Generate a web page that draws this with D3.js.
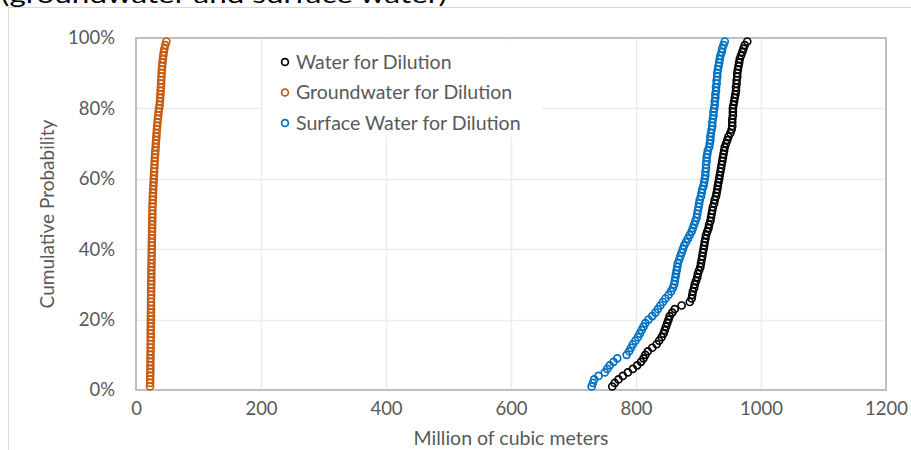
<!DOCTYPE html>
<html><head><meta charset="utf-8">
<script src="https://cdn.jsdelivr.net/npm/d3@7/dist/d3.min.js"></script>
<style>body{margin:0;background:#fff}svg{display:block}</style>
</head><body>
<svg id="c" width="911" height="450"></svg>
<script>
// Sorted sample values (million m3); cumulative probability = rank/100
const waterDilution = [762,766,772,779,787,795,802,808,812,815,819,826,833,837,841,844,846,848,850,852,854,858,862,873,886,889,890,891,893,894,896,898,899,901,903,904,905,906,907,908,909,910,911,912,914,916,917,919,920,921,922,923,925,926,928,929,930,931,932,933,934,935,936,937,938,939,940,941,942,944,946,948,951,953,954,954,954,955,955,955,956,957,958,959,960,960,961,961,962,962,963,964,965,966,968,970,972,974,978];
const groundwaterDilution = [22.5,22.6,22.7,22.8,22.9,23.0,23.0,23.1,23.2,23.2,23.3,23.4,23.4,23.5,23.5,23.6,23.6,23.7,23.7,23.8,23.9,23.9,24.0,24.0,24.1,24.1,24.2,24.2,24.3,24.4,24.4,24.5,24.6,24.6,24.7,24.8,24.9,25.0,25.1,25.2,25.3,25.4,25.5,25.6,25.7,25.8,25.9,26.0,26.1,26.2,26.3,26.4,26.6,26.8,27.0,27.2,27.5,27.8,28.1,28.4,28.7,29.0,29.3,29.6,29.9,30.2,30.6,31.0,31.4,31.8,32.2,32.6,33.0,33.4,33.9,34.4,34.9,35.5,36.2,37.0,37.8,38.3,38.7,39.1,39.5,39.8,40.1,40.4,40.7,41.0,41.3,41.8,42.3,43.0,43.7,44.5,45.5,46.8,48.5];
const surfaceDilution = [729,731,733,740,750,754,758,764,770,785,789,792,795,799,803,806,809,812,815,820,826,831,835,839,843,847,852,856,859,861,862,863,864,865,866,867,869,871,873,875,877,880,883,886,889,891,893,895,897,898,899,900,901,902,904,905,906,908,909,910,911,911,912,912,913,913,914,915,917,918,919,919,920,921,922,922,923,924,924,925,926,926,927,927,928,928,929,929,930,930,931,932,933,934,935,937,938,940,942];
const seriesNames = ["Water for Dilution","Groundwater for Dilution","Surface Water for Dilution"];
const seriesColors = ["#000000","#c55a11","#0070c0"];
const xTicks = [0,200,400,600,800,1000,1200];
const yTicks = [0,0.2,0.4,0.6,0.8,1.0];
const titleText = "(groundwater and surface water)";
const xTitle = "Million of cubic meters";
const yTitle = "Cumulative Probability";

const svg = d3.select("#c");
const font = "Lato, 'Open Sans', sans-serif";
const L=136,R=886,T=38,B=390;
const x = d3.scaleLinear().domain([0,1200]).range([L,R]);
const y = d3.scaleLinear().domain([0,1]).range([B,T]);

// partially cropped title (only its lower edge shows at the top of the page)
svg.append("text").attr("x",1).attr("y",3).attr("font-family",font).attr("font-size",24)
  .attr("fill","#000").attr("textLength",446).attr("lengthAdjust","spacingAndGlyphs").text(titleText);
// outer chart frame
svg.append("rect").attr("x",8.5).attr("y",7.5).attr("width",1000).attr("height",600)
  .attr("fill","#fff").attr("stroke","#d9d9d9");

// gridlines
svg.append("g").selectAll("line").data(yTicks.slice(1,-1)).join("line")
  .attr("x1",L).attr("x2",R).attr("y1",d=>Math.round(y(d))+0.5).attr("y2",d=>Math.round(y(d))+0.5)
  .attr("stroke","#ececec").attr("stroke-width",1.5);
svg.append("g").selectAll("line").data(xTicks.slice(1,-1)).join("line")
  .attr("y1",T).attr("y2",B).attr("x1",d=>Math.round(x(d))+0.5).attr("x2",d=>Math.round(x(d))+0.5)
  .attr("stroke","#ececec").attr("stroke-width",1.5);
// plot border
svg.append("rect").attr("x",L).attr("y",T).attr("width",R-L).attr("height",B-T)
  .attr("fill","none").attr("stroke","#bfbfbf").attr("stroke-width",2);

// axes labels via d3 axes
const xAxis = svg.append("g").attr("transform",`translate(0,${B})`)
  .call(d3.axisBottom(x).tickValues(xTicks).tickSize(0).tickPadding(12).tickFormat(d3.format("d")));
xAxis.select(".domain").remove();
xAxis.selectAll("text").attr("font-family",font).attr("font-size",18.5).attr("fill","#595959");
const yAxis = svg.append("g").attr("transform",`translate(${L},0)`)
  .call(d3.axisLeft(y).tickValues(yTicks).tickSize(0).tickPadding(21).tickFormat(d3.format(".0%")));
yAxis.select(".domain").remove();
yAxis.selectAll("text").attr("font-family",font).attr("font-size",18.5).attr("fill","#595959");

svg.append("text").attr("x",511).attr("y",445).attr("text-anchor","middle")
  .attr("font-family",font).attr("font-size",19.5).attr("fill","#595959").text(xTitle);
svg.append("text").attr("transform",`translate(54,${(T+B)/2}) rotate(-90)`).attr("text-anchor","middle")
  .attr("font-family",font).attr("font-size",19).attr("fill","#595959").text(yTitle);

// series
const allSeries = [waterDilution, groundwaterDilution, surfaceDilution];
allSeries.forEach((vals,si)=>{
  svg.append("g").selectAll("circle").data(vals).join("circle")
    .attr("cx",d=>x(d)).attr("cy",(d,i)=>y((i+1)/(vals.length+1)))
    .attr("r",3.5).attr("fill","none").attr("stroke",seriesColors[si]).attr("stroke-width",1.7);
});

// legend
svg.append("rect").attr("x",263).attr("y",41).attr("width",279).attr("height",96).attr("fill","#fff");
const lg = svg.append("g").selectAll("g").data(seriesNames).join("g")
  .attr("transform",(d,i)=>`translate(285,${62+i*30.5})`);
lg.append("circle").attr("r",3.4).attr("fill","none").attr("stroke",(d,i)=>seriesColors[i]).attr("stroke-width",1.7);
lg.append("text").attr("x",11).attr("dy","0.35em").attr("font-family",font).attr("font-size",19.5)
  .attr("fill","#595959").text(d=>d);
</script>
</body></html>
